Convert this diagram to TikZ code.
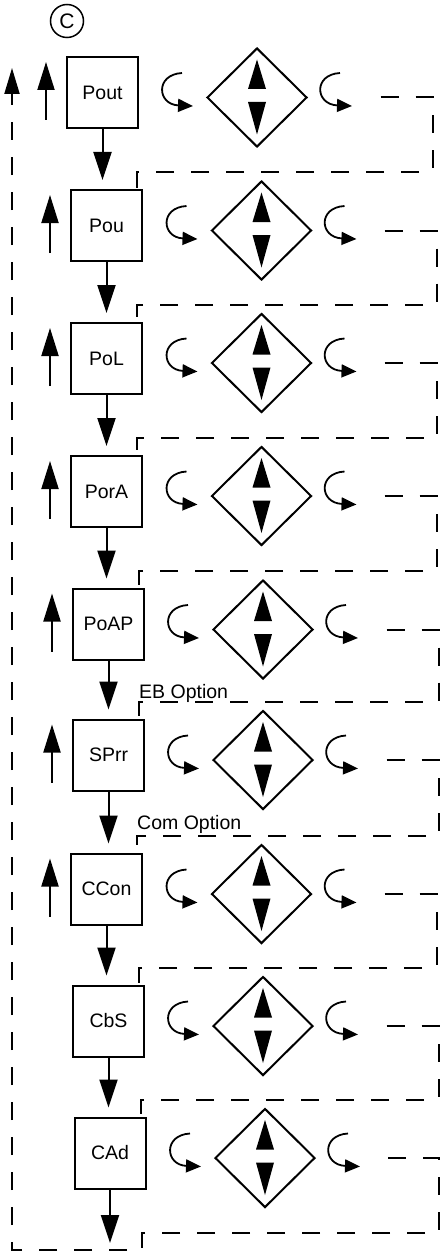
\documentclass[tikz,border=0pt]{standalone}
\usepackage{fontspec}
\setmainfont{Liberation Sans}
\usetikzlibrary{arrows.meta,shapes.geometric}
\begin{document}
\begin{tikzpicture}[x=1pt,y=-1pt,
  box/.style={draw,line width=2pt,minimum width=71pt,minimum height=71pt,inner sep=0pt,font=\fontsize{19.5}{22}\selectfont},
  dia/.style={draw,diamond,line width=2pt,minimum width=100pt,minimum height=99pt,inner sep=0pt},
  flow/.style={line width=2pt,-{Triangle[length=28pt,width=18pt]}},
  fb/.style={line width=2pt,dash pattern=on 18pt off 17pt},
  curl/.style={line width=1.8pt,-{Triangle[length=15pt,width=13pt]}},
  opt/.style={font=\fontsize{19.5}{22}\selectfont,inner sep=0pt,anchor=base west}]
\useasboundingbox (0,0) rectangle (441,1252);
\node[draw,circle,line width=1.5pt,minimum size=33pt,inner sep=0pt,font=\fontsize{21}{21}\selectfont] (cc) at (67,21) {C};
\foreach \i/\bx/\by/\dx/\dy/\t in {1/102.5/92.5/257/97.5/Pout, 2/106.5/225.5/261.5/230.5/Pou, 3/106.5/358.5/261.5/363/PoL, 4/106.5/491.5/261.5/496/PorA, 5/108.5/624/263/629.5/PoAP, 6/108.5/755/263/760/SPrr, 7/106.5/889/261.5/894/CCon, 8/108.5/1021/263/1026/CbS, 9/110/1153/265/1158/CAd} {
  \node[box] (b\i) at (\bx,\by) {\t};
  \node[dia] (d\i) at (\dx,\dy) {};
  \fill[shift={(\dx,\dy)}] (-9,-8.5) -- (9,-8.5) -- (0,-38) -- cycle;
  \fill[shift={(\dx,\dy)}] (-9,4.5) -- (9,4.5) -- (0,37) -- cycle;
  \draw[curl,shift={(\dx,\dy)}] (-75,-24.5) .. controls (-102,-23) and (-100,7) .. (-64,8.5);
  \draw[curl,shift={(\dx,\dy)}] (83,-24.5) .. controls (56,-23) and (58,7) .. (95,8.5);
  \coordinate (s\i) at (\bx+278,\dy);
}
\foreach \i in {1,...,7} {
  \draw[line width=2pt,-{Triangle[length=28pt,width=17pt]}] ([xshift=-20pt,yshift=9pt]b\i.south west) -- ([xshift=-20pt,yshift=-6pt]b\i.north west);
}
\foreach \i/\j in {1/2,2/3,3/4,4/5,5/6,6/7,7/8,8/9} {
  \draw[flow,shorten >=9pt] (b\i.south) -- (b\i.south |- b\j.north);
  \draw[fb] (s\i) -- ++(52,0) |- ([xshift=-6pt,yshift=17pt]b\j.north east) -- ([xshift=-6pt]b\j.north east);
}
\coordinate (endd) at (110,1243);
\draw[flow] (b9.south) -- (endd);
\coordinate (fbtop) at (12,68);
\draw[fb,-{Triangle[length=26pt,width=15pt]}] (s9) -- (439,1158) -- (439,1233) -- (142,1233) -- (142,1250) -- (12,1250) -- (fbtop);
\node[opt] (eb) at (139,698) {EB Option};
\node[opt] (com) at (137,829) {Com Option};
\end{tikzpicture}
\end{document}
